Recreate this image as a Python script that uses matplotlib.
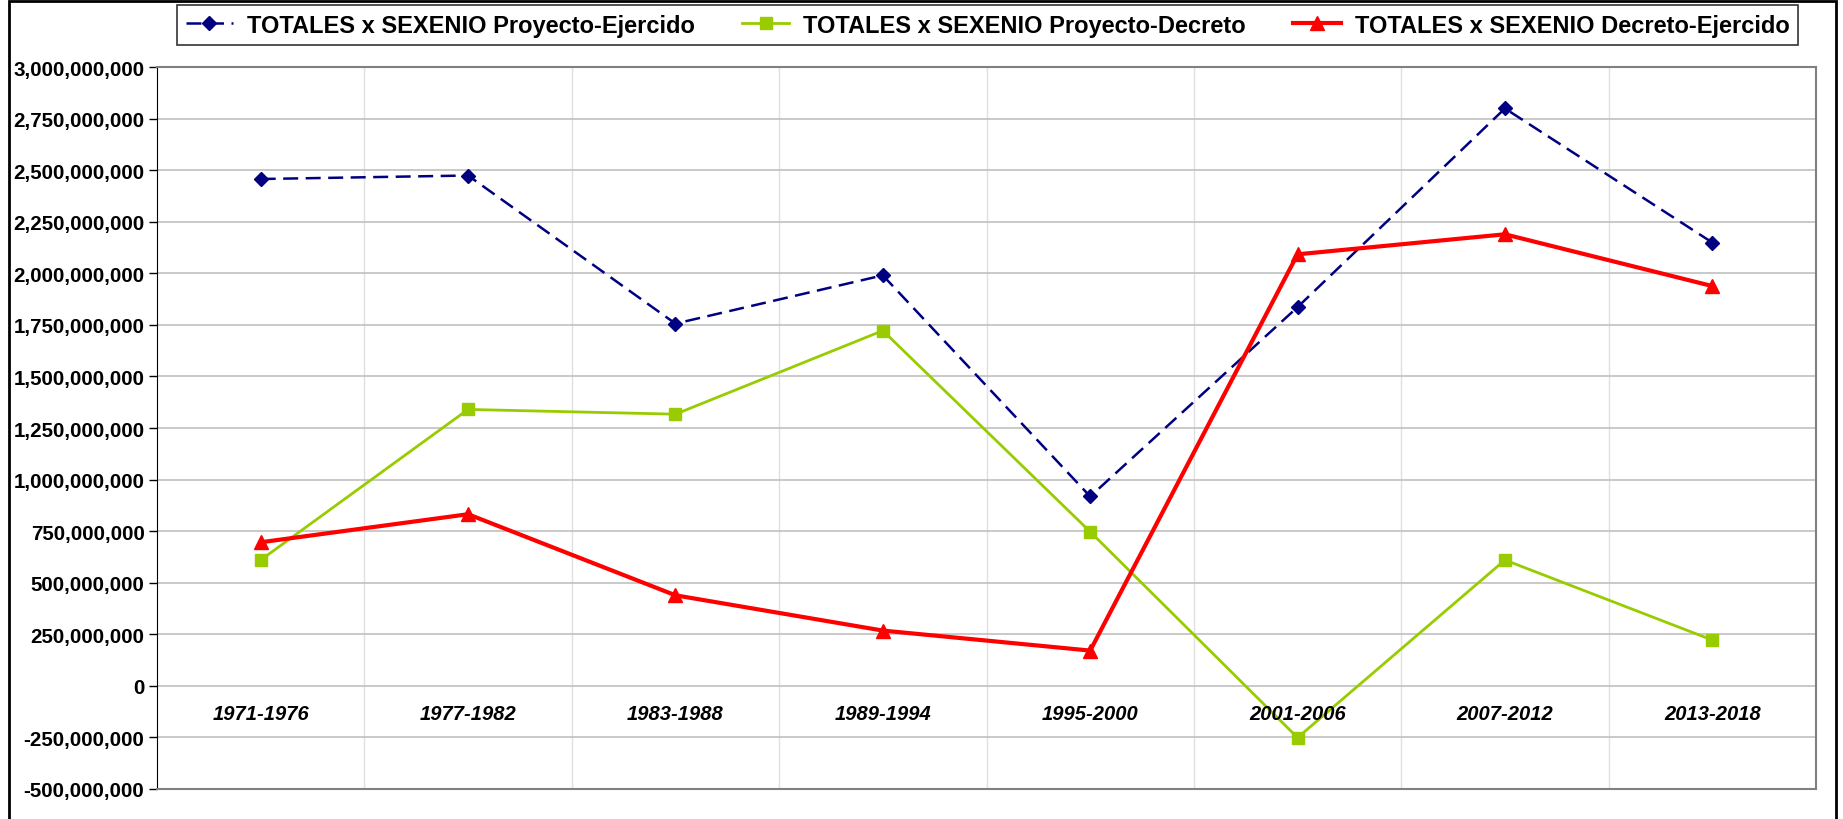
import matplotlib
matplotlib.use("Agg")
from matplotlib import pyplot as plt
from matplotlib.ticker import FuncFormatter
from matplotlib.patches import Rectangle

# periodos sexenales
sexenios = ["1971-1976", "1977-1982", "1983-1988", "1989-1994",
            "1995-2000", "2001-2006", "2007-2012", "2013-2018"]

proyecto_ejercido = [2457e6, 2474e6, 1756e6, 1990e6, 918e6, 1836e6, 2799e6, 2149e6]
proyecto_decreto = [610e6, 1340e6, 1317e6, 1722e6, 747e6, -251e6, 610e6, 222e6]
decreto_ejercido = [696e6, 832e6, 439e6, 268e6, 171e6, 2092e6, 2189e6, 1938e6]

y_ticks = list(range(-500000000, 3000000001, 250000000))

plt.rcParams['font.family'] = ['Liberation Sans', 'DejaVu Sans']

W, H = 1843, 820
fig = plt.figure(figsize=(W / 100, H / 100), dpi=100)
ax = fig.add_axes([157 / W, 1 - 790 / H, (1816 - 157) / W, (790 - 68) / H])

x = list(range(len(sexenios)))
ax.plot(x, proyecto_ejercido, color="#000080", lw=1.8, ls=(0, (6, 3)),
        marker="D", ms=7, label="TOTALES x SEXENIO Proyecto-Ejercido")
ax.plot(x, proyecto_decreto, color="#99CC00", lw=2, marker="s", ms=9,
        label="TOTALES x SEXENIO Proyecto-Decreto")
ax.plot(x, decreto_ejercido, color="#FF0000", lw=3, marker="^", ms=10,
        label="TOTALES x SEXENIO Decreto-Ejercido")

ax.set_xlim(-0.5, len(sexenios) - 0.5)
ax.set_ylim(-500000000, 3000000000)
ax.set_yticks(y_ticks)
ax.yaxis.set_major_formatter(FuncFormatter(lambda v, p: f"{int(v):,}"))
ax.tick_params(axis="y", labelsize=14.8, length=6, width=1, direction="out", pad=3)
for lab in ax.get_yticklabels():
    lab.set_fontweight("bold")

# gridlines
ax.set_xticks([i + 0.5 for i in x[:-1]])
ax.tick_params(axis="x", length=0, labelbottom=False)
ax.grid(axis="y", color="#c0c0c0", lw=1.2)
ax.grid(axis="x", color="#e0e0e0", lw=1)
ax.set_axisbelow(True)

for i, s in enumerate(sexenios):
    ax.text(i, -135e6, s, ha="center", va="center", fontsize=14.5,
            fontweight="bold", fontstyle="italic")

for side in ["top", "right", "bottom"]:
    ax.spines[side].set_color("#808080")
    ax.spines[side].set_linewidth(1.5)
ax.spines["left"].set_color("black")

leg = ax.legend(loc="center", bbox_to_anchor=((165 + 1810) / 2 / W, 1 - 26 / H),
                bbox_transform=fig.transFigure, ncol=3, frameon=True,
                fancybox=False, edgecolor="black",
                prop={"weight": "bold", "size": 17}, handlelength=2.0,
                columnspacing=2.0, handletextpad=0.6, borderpad=0.35)
leg.get_frame().set_linewidth(1.2)

fig.patches.append(Rectangle((9 / W, -0.1), (1836 - 9) / W, 1.1 - 2 / H,
                             transform=fig.transFigure, fill=False,
                             edgecolor="black", lw=2))

fig.savefig("out.png", dpi=100)
